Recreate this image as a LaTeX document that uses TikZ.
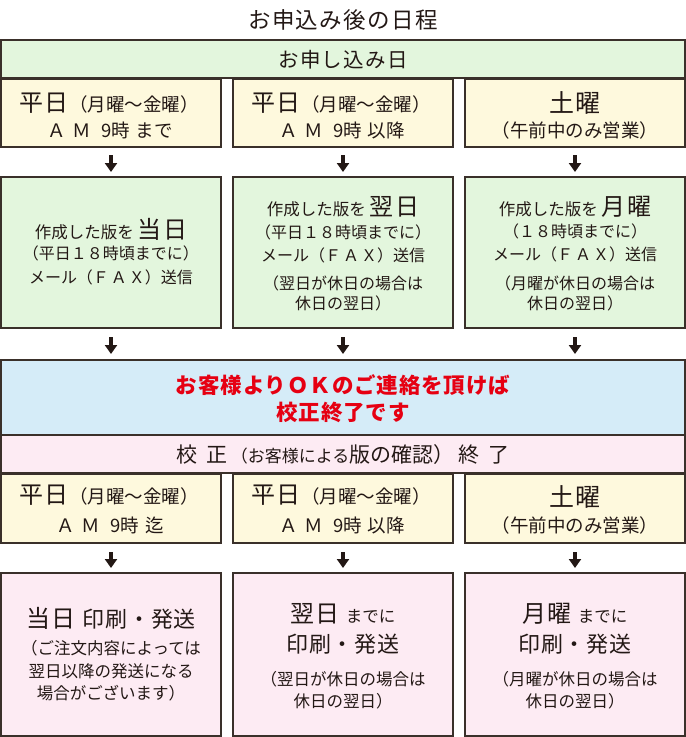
\documentclass[tikz,border=0pt]{standalone}
\usepackage{fontspec}
\setmainfont{Noto Sans CJK JP}
\newfontfamily\trk[LetterSpace=6]{Noto Sans CJK JP}
\newfontfamily\trkb[LetterSpace=4]{Noto Sans CJK JP}
\newfontfamily\trks[LetterSpace=4]{Noto Sans CJK JP}
\usetikzlibrary{arrows.meta}
\definecolor{ink}{HTML}{231815}
\definecolor{edge}{HTML}{3A302A}
\definecolor{gfill}{HTML}{E3F6DD}
\definecolor{yfill}{HTML}{FEF9DD}
\definecolor{bfill}{HTML}{D5ECF8}
\definecolor{pfill}{HTML}{FDEBF3}
\definecolor{okred}{HTML}{E60012}
\newcommand\fsz[1]{\fontsize{#1pt}{#1pt}\selectfont}
\newcommand\lab[4]{\node[lbl] (#1) at (#2,#3) {#4};}
\begin{document}
\begin{tikzpicture}[x=1pt,y=-1pt,
  boxst/.style={draw=edge, line width=1.3pt, inner sep=0pt, outer sep=0pt},
  lbl/.style={inner sep=0pt, text=ink, anchor=center},
  darr/.style={draw=ink, line width=4pt, -{Triangle[width=12pt,length=9pt]}},
]
\useasboundingbox (0,0) rectangle (686,737);
% boxes
\node[boxst, fill=gfill, minimum width=684pt, minimum height=38pt] (top) at (343,59) {};
\foreach \n/\x in {a/111,b/343,c/575}{
  \node[boxst, fill=yfill, minimum width=220pt, minimum height=68pt] (r1\n) at (\x,113) {};
  \node[boxst, fill=gfill, minimum width=220pt, minimum height=151pt] (r2\n) at (\x,252.5) {};
  \node[boxst, fill=yfill, minimum width=220pt, minimum height=69pt] (r3\n) at (\x,508.5) {};
  \node[boxst, fill=pfill, minimum width=220pt, minimum height=163pt] (r4\n) at (\x,654.5) {};
}
\node[boxst, fill=bfill, minimum width=684pt, minimum height=75pt] (blue) at (343,397.5) {};
\node[boxst, fill=pfill, minimum width=684pt, minimum height=38pt] (pbar) at (343,454) {};
% arrows
\foreach \n in {a,b,c}{
  \draw[darr, shorten <=8pt, shorten >=5pt] (r1\n.south) -- (r2\n.north);
  \draw[darr, shorten <=9pt, shorten >=6pt] (r2\n.south) -- (r2\n.south |- blue.north);
  \draw[darr, shorten <=9pt, shorten >=5pt] (r3\n.south) -- (r4\n.north);
}
% texts
\lab{title}{343}{20}{\trk\fsz{22.5}お申込み後の日程}
\lab{toptx}{343}{60}{\trk\fsz{20.5}お申し込み日}
% row 1
\lab{r1a1}{109}{103}{{\trk\fsz{24}平日}\hspace{1pt}{\fsz{18.5}（月曜～金曜）}}
\lab{r1a2}{110}{130}{\fsz{18.5}Ａ\hspace{7pt}Ｍ\hspace{10pt}9時\hspace{6pt}まで}
\lab{r1b1}{341}{103}{{\trk\fsz{24}平日}\hspace{1pt}{\fsz{18.5}（月曜～金曜）}}
\lab{r1b2}{342}{130}{\fsz{18.5}Ａ\hspace{7pt}Ｍ\hspace{10pt}9時\hspace{6pt}以降}
\lab{r1c1}{575}{103}{\trk\fsz{25}土曜}
\lab{r1c2}{575}{130}{\fsz{18.5}（午前中のみ営業）}
% row 2
\lab{r2a1}{111}{229}{{\fsz{16.5}作成した版を}\hspace{4pt}{\trk\fsz{24}当日}}
\lab{r2a2}{111}{253}{\fsz{16}（平日１８時頃までに）}
\lab{r2a3}{111}{277}{\fsz{16}メール（Ｆ\hspace{2pt}Ａ\hspace{2pt}Ｘ）送信}
\lab{r2b1}{343}{207}{{\fsz{16.5}作成した版を}\hspace{4pt}{\trk\fsz{24}翌日}}
\lab{r2b2}{343}{232}{\fsz{16}（平日１８時頃までに）}
\lab{r2b3}{343}{255}{\fsz{16}メール（Ｆ\hspace{2pt}Ａ\hspace{2pt}Ｘ）送信}
\lab{r2b4}{343}{283}{\fsz{16}（翌日が休日の場合は}
\lab{r2b5}{343}{303}{\fsz{16}休日の翌日）}
\lab{r2c1}{575}{207}{{\fsz{16.5}作成した版を}\hspace{4pt}{\trk\fsz{24}月曜}}
\lab{r2c2}{575}{231}{\fsz{16}（１８時頃までに）}
\lab{r2c3}{575}{254}{\fsz{16}メール（Ｆ\hspace{2pt}Ａ\hspace{2pt}Ｘ）送信}
\lab{r2c4}{575}{283}{\fsz{16}（月曜が休日の場合は}
\lab{r2c5}{575}{303}{\fsz{16}休日の翌日）}
% blue
\lab{ok1}{343}{385}{\color{okred}\bfseries\trkb\fsz{21.5}お客様よりＯＫのご連絡を頂けば}
\lab{ok2}{343}{412}{\color{okred}\bfseries\trkb\fsz{21.5}校正終了です}
% pink bar
\lab{pbtx}{343}{455}{{\fsz{21}校\hspace{9pt}正}\hspace{3pt}{\fsz{17}（お客様による}{\fsz{21}版の確認）}\hspace{4pt}{\fsz{21}終\hspace{9pt}了}}
% row 3
\lab{r3a1}{109}{495}{{\trk\fsz{24}平日}\hspace{1pt}{\fsz{18.5}（月曜～金曜）}}
\lab{r3a2}{110}{525}{\fsz{18.5}Ａ\hspace{7pt}Ｍ\hspace{10pt}9時\hspace{6pt}迄}
\lab{r3b1}{341}{495}{{\trk\fsz{24}平日}\hspace{1pt}{\fsz{18.5}（月曜～金曜）}}
\lab{r3b2}{342}{525}{\fsz{18.5}Ａ\hspace{7pt}Ｍ\hspace{10pt}9時\hspace{6pt}以降}
\lab{r3c1}{575}{497}{\trk\fsz{25}土曜}
\lab{r3c2}{575}{525}{\fsz{18.5}（午前中のみ営業）}
% row 4
\lab{r4a1}{111}{618}{{\trk\fsz{24}当日}\hspace{7pt}{\trks\fsz{22}印刷・発送}}
\lab{r4a2}{111}{648}{\fsz{16.5}（ご注文内容によっては}
\lab{r4a3}{111}{671}{\fsz{16.5}翌日以降の発送になる}
\lab{r4a4}{111}{693}{\fsz{16.5}場合がございます）}
\lab{r4b1}{343}{614}{{\trk\fsz{24}翌日}\hspace{6pt}{\fsz{16.5}までに}}
\lab{r4b2}{343}{644}{\trks\fsz{22}印刷・発送}
\lab{r4b3}{343}{679}{\fsz{16.5}（翌日が休日の場合は}
\lab{r4b4}{343}{701}{\fsz{16.5}休日の翌日）}
\lab{r4c1}{575}{614}{{\trk\fsz{24}月曜}\hspace{6pt}{\fsz{16.5}までに}}
\lab{r4c2}{575}{644}{\trks\fsz{22}印刷・発送}
\lab{r4c3}{575}{679}{\fsz{16.5}（月曜が休日の場合は}
\lab{r4c4}{575}{701}{\fsz{16.5}休日の翌日）}
\end{tikzpicture}
\end{document}
